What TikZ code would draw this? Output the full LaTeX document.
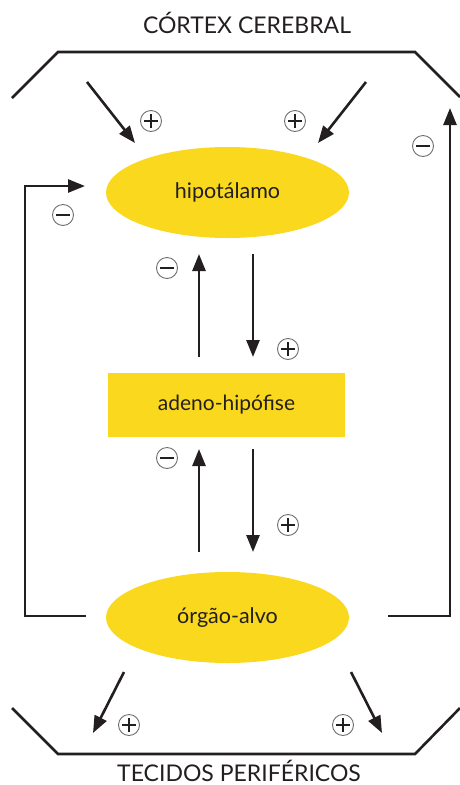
\documentclass[tikz,border=0pt]{standalone}
\usepackage{fontspec}
\setmainfont{Lato}
\usetikzlibrary{arrows.meta,shapes.geometric}
\definecolor{gland}{HTML}{F9D81E}
\definecolor{ink}{HTML}{231F20}
\definecolor{ringgray}{HTML}{6D6E71}
\begin{document}
\begin{tikzpicture}[x=1pt,y=-1pt,
  flow/.style={line width=2.6pt, draw=ink},
  arr/.style={flow, -{Triangle[length=17pt,width=13pt]}},
  organ/.style={ellipse, fill=gland, minimum width=243pt, minimum height=91pt,
    inner sep=0pt, text=ink, font=\fontsize{21.5}{25}\selectfont},
  gland box/.style={rectangle, fill=gland, minimum width=237pt, minimum height=64pt,
    inner sep=0pt, text=ink, font=\fontsize{21}{25}\selectfont},
  region/.style={text=ink, font=\fontsize{23}{27}\selectfont, anchor=base,
    inner sep=0pt, text depth=0pt},
  sign/.style={circle, draw=ringgray, line width=0.9pt, minimum size=21pt, inner sep=0pt},
  signplus/.style={sign, path picture={
    \draw[ink, line width=1.3pt]
      ([xshift=-7pt]path picture bounding box.center) -- ([xshift=7pt]path picture bounding box.center)
      ([yshift=-7pt]path picture bounding box.center) -- ([yshift=7pt]path picture bounding box.center);}},
  signminus/.style={sign, path picture={
    \draw[ink, line width=1.3pt]
      ([xshift=-7pt]path picture bounding box.center) -- ([xshift=7pt]path picture bounding box.center);}}
]
\useasboundingbox (0,0) rectangle (460,785);

% titles
\node[region] (cortex) at (247,33) {CÓRTEX CEREBRAL};
\node[region] (tecidos) at (239,781.5) {TECIDOS PERIFÉRICOS};

% brackets for cortex and peripheral tissues
\coordinate (ctA) at (12,98);  \coordinate (ctB) at (58,52);
\coordinate (ctC) at (415,52); \coordinate (ctD) at (460,97);
\draw[flow] (ctA) -- (ctB) -- (ctC) -- (ctD);
\coordinate (tpA) at (12,708);  \coordinate (tpB) at (58,754);
\coordinate (tpC) at (415,754); \coordinate (tpD) at (460,708);
\draw[flow] (tpA) -- (tpB) -- (tpC) -- (tpD);

% main nodes
\node[organ] (hipo) at (227.5,192.5) {hipotálamo};
\node[gland box] (adeno) at (226.5,405) {adeno-hipófise};
\node[organ] (orgao) at (227.5,617.5) {órgão-alvo};

% cortex -> hypothalamus
\coordinate (cxL) at (87,82);  \coordinate (hpL) at (135,143);
\coordinate (cxR) at (366,82); \coordinate (hpR) at (318,143);
\draw[arr] (cxL) -- (hpL);
\draw[arr] (cxR) -- (hpR);
\node[signplus] (s1) at (151,121) {};
\node[signplus] (s2) at (295,121) {};

% hypothalamus <-> adeno-hypophysis
\coordinate (u1a) at (199,357); \coordinate (u1b) at (199,254);
\coordinate (d1a) at (253,254); \coordinate (d1b) at (253,357);
\draw[arr] (u1a) -- (u1b);
\draw[arr] (d1a) -- (d1b);
\node[signminus] (s3) at (167,268) {};
\node[signplus] (s4) at (288,349) {};

% adeno-hypophysis <-> target organ
\coordinate (u2a) at (199,552); \coordinate (u2b) at (199,449);
\coordinate (d2a) at (253,449); \coordinate (d2b) at (253,552);
\draw[arr] (u2a) -- (u2b);
\draw[arr] (d2a) -- (d2b);
\node[signminus] (s5) at (167,458) {};
\node[signplus] (s6) at (288,525) {};

% long feedback loops
\coordinate (fbL0) at (86,616); \coordinate (fbL1) at (25,616);
\coordinate (fbL2) at (25,186); \coordinate (fbL3) at (85,186);
\draw[arr] (fbL0) -- (fbL1) -- (fbL2) -- (fbL3);
\node[signminus] (s7) at (63,215) {};
\coordinate (fbR0) at (388,616); \coordinate (fbR1) at (450,616);
\coordinate (fbR2) at (450,108);
\draw[arr] (fbR0) -- (fbR1) -- (fbR2);
\node[signminus] (s8) at (423,146) {};

% target organ -> peripheral tissues
\coordinate (ogL) at (124,672); \coordinate (tpL) at (93,733);
\coordinate (ogR) at (351,672); \coordinate (tpR) at (382,733);
\draw[arr] (ogL) -- (tpL);
\draw[arr] (ogR) -- (tpR);
\node[signplus] (s9) at (129,725) {};
\node[signplus] (s10) at (343,725) {};
\end{tikzpicture}
\end{document}
